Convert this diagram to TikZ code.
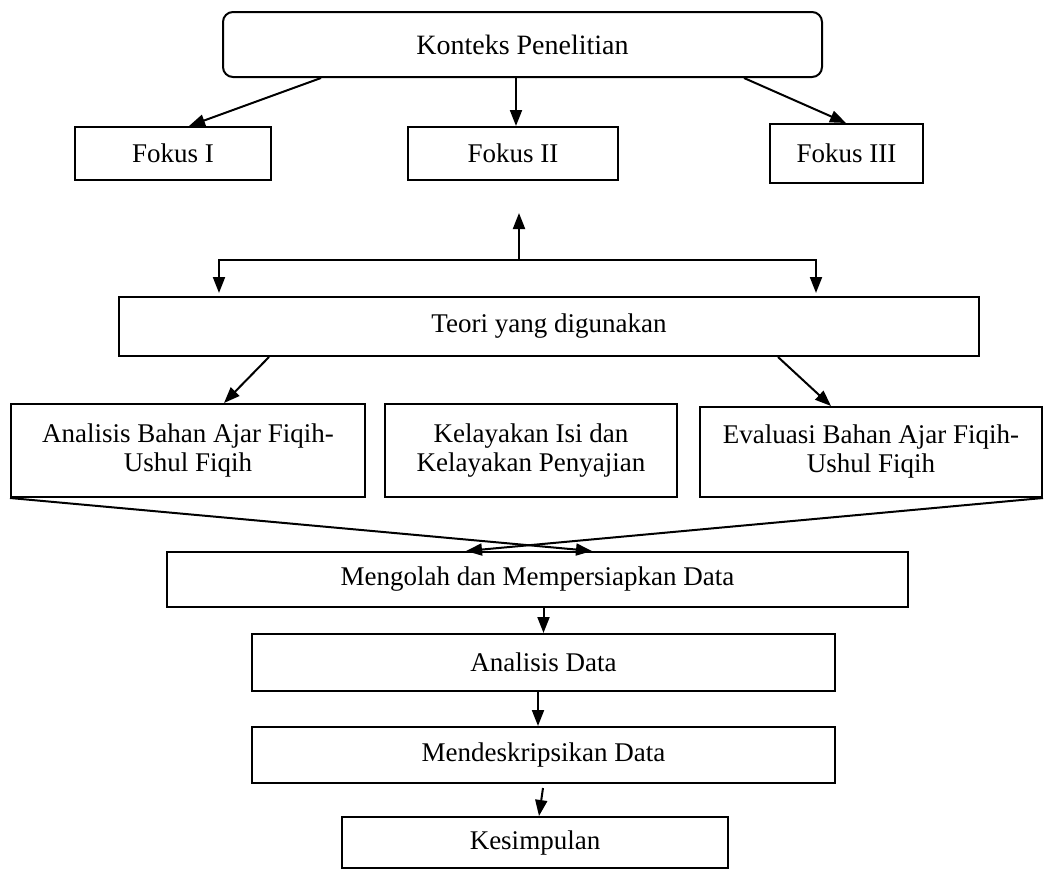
\documentclass[tikz,border=0pt]{standalone}
\usepackage{fontspec}
\setmainfont{Liberation Serif}
\usetikzlibrary{arrows.meta,calc}
\begin{document}
\begin{tikzpicture}[x=1pt,y=-1pt,
  box/.style={draw,line width=2pt,rectangle,inner sep=0pt,align=center,font=\fontsize{27}{29}\selectfont},
  arr/.style={line width=2pt,-{Triangle[length=16pt,width=12pt]}},
  ln/.style={line width=2pt}]
\useasboundingbox[fill=white] (0,0) rectangle (1045,870);

\node[box,rounded corners=10pt,minimum width=599pt,minimum height=65pt,font=\fontsize{28}{30}\selectfont] (kon) at (522.5,44.5) {Konteks Penelitian};
\node[box,minimum width=196pt,minimum height=53pt] (f1) at (173,153.5) {Fokus I};
\node[box,minimum width=210pt,minimum height=53pt] (f2) at (513,153.5) {Fokus II};
\node[box,minimum width=153pt,minimum height=59pt] (f3) at (846.5,153.5) {Fokus III};

\node[box,minimum width=860pt,minimum height=59pt] (teori) at (549,326.5) {Teori yang digunakan};

\node[box,minimum width=354pt,minimum height=93pt] (ana) at (188,450.5) {Analisis Bahan Ajar Fiqih-\\Ushul Fiqih};
\node[box,minimum width=292pt,minimum height=93pt] (kel) at (531,450.5) {Kelayakan Isi dan\\Kelayakan Penyajian};
\node[box,minimum width=342pt,minimum height=90pt] (eva) at (871,452) {Evaluasi Bahan Ajar Fiqih-\\Ushul Fiqih};

\node[box,minimum width=741pt,minimum height=55pt] (meng) at (537.5,579.5) {Mengolah dan Mempersiapkan Data};
\node[box,minimum width=583pt,minimum height=57pt] (ad) at (543.5,662.5) {Analisis Data};
\node[box,minimum width=583pt,minimum height=56pt] (md) at (543.5,755) {Mendeskripsikan Data};
\node[box,minimum width=386pt,minimum height=51pt] (kes) at (535,842.5) {Kesimpulan};

% Konteks -> Fokus
\draw[arr] ($(kon.south west)+(99,0)$) -- ($(f1.north west)+(115,0)$);
\draw[arr] ($(kon.south west)+(294,0)$) -- ($(f2.north west)+(109,0)$);
\draw[arr] ($(kon.south west)+(522,0)$) -- ($(f3.north west)+(77,0)$);

% hub above Teori
\coordinate (hub) at (519,260);
\coordinate (uptip) at (519,213);
\draw[arr] (hub) -- (uptip);
\draw[arr] (hub) -| ($(teori.north west)+(101,-3)$);
\draw[arr] (hub) -| ($(teori.north west)+(698,-3)$);

% Teori -> boxes
\draw[arr] ($(teori.south west)+(151,0)$) -- ($(ana.north west)+(214,0)$);
\draw[arr] ($(teori.south west)+(660,0)$) -- ($(eva.north west)+(132,0)$);

% crossing lines
\draw[arr] (ana.south west) -- ($(meng.north west)+(426,0)$);
\draw[arr] (eva.south east) -- ($(meng.north west)+(300,0)$);

% lower chain
\draw[arr] (meng.south -| ad.north) -- (ad.north);
\draw[arr] ($(ad.south)+(-5.5,0)$) -- ($(md.north)+(-5.5,0)$);
\draw[arr] ($(md.south)+(-0.5,4)$) -- ($(kes.north)+(4,0)$);
\end{tikzpicture}
\end{document}
